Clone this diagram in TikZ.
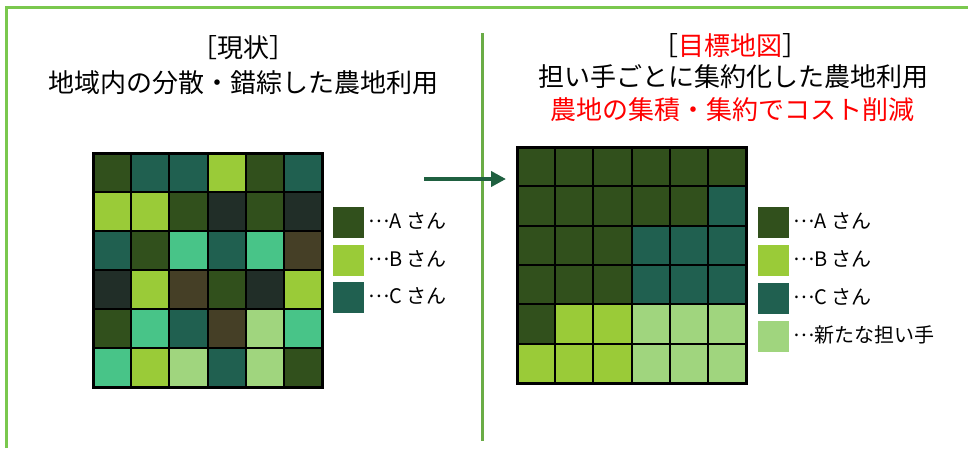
\documentclass[tikz,border=0pt]{standalone}
\usepackage{fontspec}
\setmainfont{Noto Sans CJK JP}
\usetikzlibrary{arrows.meta}
\definecolor{colA}{RGB}{49,80,28}
\definecolor{colB}{RGB}{154,203,56}
\definecolor{colC}{RGB}{32,96,80}
\definecolor{colD}{RGB}{33,46,40}
\definecolor{colE}{RGB}{72,196,136}
\definecolor{colF}{RGB}{69,63,38}
\definecolor{colG}{RGB}{160,213,126}
\definecolor{frameG}{RGB}{122,200,78}
\definecolor{divG}{RGB}{106,172,70}
\definecolor{arrowG}{RGB}{31,96,64}
\definecolor{redT}{RGB}{255,0,0}
\newcommand{\midell}{\raisebox{0.3em}{…}}
\begin{document}
\begin{tikzpicture}[x=1pt,y=-1pt,
  title/.style={font=\fontsize{26}{30}\selectfont, inner sep=0pt},
  legtext/.style={font=\fontsize{20}{24}\selectfont, anchor=west, inner sep=0pt},
  legbox/.style={minimum size=31pt, inner sep=0pt, draw=none},
  cellline/.style={line width=2pt, black},
  gridframe/.style={line width=3pt, black}]
\useasboundingbox (0,0) rectangle (968,448);
\fill[white] (0,0) rectangle (968,448);
% frame and divider
\draw[frameG, line width=3pt] (6,448) -- (6,7) -- (968,7);
\draw[divG, line width=3pt] (482,33) -- (482,441);
% left grid
\foreach \row [count=\r from 0] in {{A,C,C,B,A,C},{B,B,A,D,A,D},{C,A,E,C,E,F},{D,B,F,A,D,B},{A,E,C,F,G,E},{E,B,G,C,G,A}}{
  \foreach \c [count=\k from 0] in \row {
    \fill[col\c] ({93+\k*229/6},{153+\r*39}) rectangle ++(229/6,39);
  }
}
\foreach \i in {1,...,5}{
  \draw[cellline] ({93+\i*229/6},153) -- ++(0,234);
  \draw[cellline] (93,{153+\i*39}) -- ++(229,0);
}
\draw[gridframe] (93,153) rectangle (322,387);
% right grid
\foreach \row [count=\r from 0] in {{A,A,A,A,A,A},{A,A,A,A,A,C},{A,A,A,C,C,C},{A,A,A,C,C,C},{A,B,B,G,G,G},{B,B,B,G,G,G}}{
  \foreach \c [count=\k from 0] in \row {
    \fill[col\c] ({517+\k*229/6},{147+\r*236/6}) rectangle ++(229/6,236/6);
  }
}
\foreach \i in {1,...,5}{
  \draw[cellline] ({517+\i*229/6},147) -- ++(0,236);
  \draw[cellline] (517,{147+\i*236/6}) -- ++(229,0);
}
\draw[gridframe] (517,147) rectangle (746,383);
% titles
\node[title] (t1) at (243,48) {［現状］};
\node[title] (t2) at (243,83) {地域内の分散・錯綜した農地利用};
\node[title] (t3) at (730,46) {［\textcolor{redT}{目標地図}］};
\node[title] (t4) at (733,77) {担い手ごとに集約化した農地利用};
\node[title, text=redT] (t5) at (732,110) {農地の集積・集約でコスト削減};
% arrow
\coordinate (as) at (424,179);
\coordinate (ae) at (506,179);
\draw[arrowG, line width=4pt, -{Triangle[length=15pt,width=15pt]}] (as) -- (ae);
% left legend
\node[legbox, fill=colA] (la) at (348.5,222.5) {};
\node[legbox, fill=colB] (lb) at (348.5,260.5) {};
\node[legbox, fill=colC] (lc) at (348.5,297.5) {};
\node[legtext] (lat) at (368,221) {\midell A さん};
\node[legtext] (lbt) at (368,259) {\midell B さん};
\node[legtext] (lct) at (368,296) {\midell C さん};
% right legend
\node[legbox, fill=colA] (ra) at (773.5,222.5) {};
\node[legbox, fill=colB] (rb) at (773.5,260.5) {};
\node[legbox, fill=colC] (rc) at (773.5,298.5) {};
\node[legbox, fill=colG] (rd) at (773.5,336.5) {};
\node[legtext] (rat) at (793,221) {\midell A さん};
\node[legtext] (rbt) at (793,259) {\midell B さん};
\node[legtext] (rct) at (793,297) {\midell C さん};
\node[legtext] (rdt) at (793,335) {\midell 新たな担い手};
\end{tikzpicture}
\end{document}
